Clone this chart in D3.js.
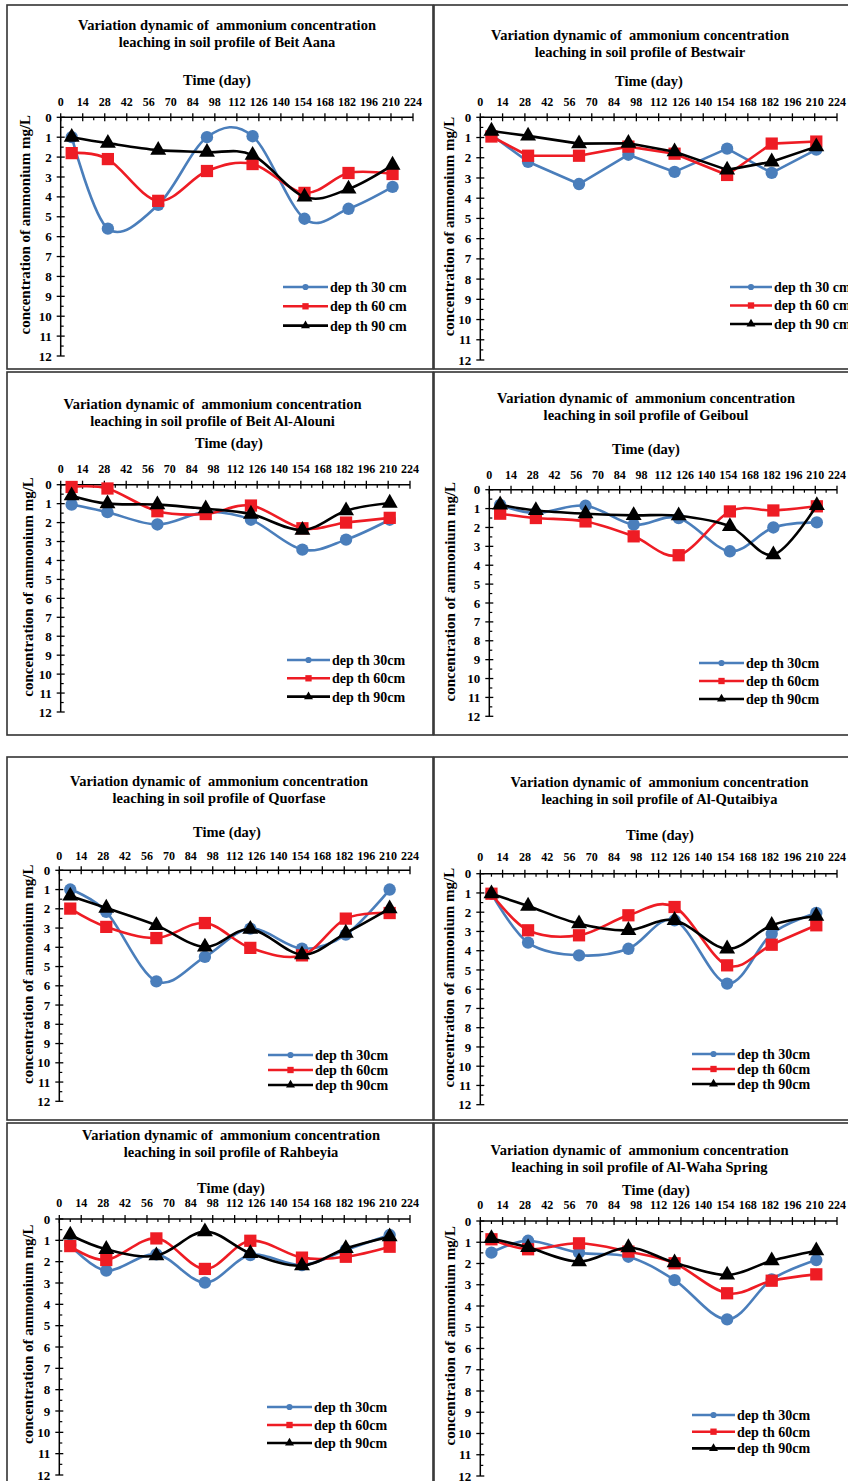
<!DOCTYPE html>
<html lang="en">
<head>
<meta charset="UTF-8">
<title>Ammonium leaching in soil profiles</title>
<script src="https://d3js.org/d3.v7.min.js"></script>
<style>
  body { margin: 0; background: #fff; }
  svg { display: block; font-family: "Liberation Serif", "Times New Roman", serif; font-weight: bold; }
  .title { white-space: pre; }
</style>
</head>
<body>
<svg id="chart"></svg>
<script>
const width = 848, height = 1481;

// sampling days and axis ticks
const days = [7, 30, 62, 93, 122, 155, 183, 211];
const xTicks = d3.range(0, 225, 14);
const yTicks = d3.range(0, 13);

const sites = ["Beit Aana", "Bestwair", "Beit Al-Alouni", "Geiboul",
               "Quorfase", "Al-Qutaibiya", "Rahbeyia", "Al-Waha Spring"];
const legendWide = ["dep th 30 cm", "dep th 60 cm", "dep th 90 cm"];
const legendTight = ["dep th 30cm", "dep th 60cm", "dep th 90cm"];

// ammonium mg/L, one row per site (same order as sites)
const depth30 = [
  [1.0, 5.6, 4.4, 1.0, 0.95, 5.1, 4.6, 3.5],
  [0.87, 2.2, 3.3, 1.85, 2.7, 1.55, 2.75, 1.6],
  [1.05, 1.45, 2.1, 1.45, 1.85, 3.43, 2.9, 1.85],
  [0.8, 1.23, 0.85, 1.85, 1.5, 3.26, 2.0, 1.73],
  [1.0, 2.16, 5.77, 4.5, 3.03, 4.07, 3.34, 1.0],
  [1.04, 3.58, 4.24, 3.9, 2.42, 5.71, 3.12, 2.04],
  [1.22, 2.42, 1.66, 2.98, 1.69, 2.16, 1.45, 0.75],
  [1.49, 0.93, 1.49, 1.68, 2.78, 4.63, 2.75, 1.84]
];
const depth60 = [
  [1.8, 2.1, 4.2, 2.7, 2.35, 3.8, 2.8, 2.85],
  [0.95, 1.9, 1.9, 1.45, 1.8, 2.85, 1.3, 1.2],
  [0.12, 0.2, 1.4, 1.55, 1.1, 2.3, 2.0, 1.75],
  [1.27, 1.5, 1.68, 2.47, 3.47, 1.15, 1.1, 0.88],
  [1.99, 2.94, 3.52, 2.74, 4.03, 4.42, 2.51, 2.22],
  [1.04, 2.94, 3.2, 2.16, 1.73, 4.76, 3.69, 2.68],
  [1.27, 1.92, 0.91, 2.34, 1.02, 1.81, 1.77, 1.3],
  [0.86, 1.33, 1.05, 1.44, 1.99, 3.4, 2.81, 2.51]
];
const depth90 = [
  [1.0, 1.3, 1.65, 1.75, 1.9, 4.0, 3.6, 2.4],
  [0.68, 0.92, 1.3, 1.28, 1.7, 2.6, 2.2, 1.45],
  [0.58, 1.0, 1.05, 1.27, 1.55, 2.4, 1.37, 0.97],
  [0.8, 1.1, 1.27, 1.36, 1.38, 1.94, 3.44, 0.83],
  [1.33, 1.96, 2.86, 3.98, 3.06, 4.38, 3.26, 1.99],
  [1.04, 1.68, 2.6, 2.94, 2.42, 3.9, 2.68, 2.2],
  [0.75, 1.42, 1.72, 0.59, 1.61, 2.19, 1.38, 0.83],
  [0.82, 1.24, 1.91, 1.25, 1.96, 2.54, 1.87, 1.4]
];

// where each panel sits on the page
const layout = [
  {box: [7, 5, 433, 369], ax: [60.7, 413, 117.3, 356], title: [227, 30], time: [217, 85], tick: 106, yt: 25, leg: [283, 328, 287, 19.3], smooth: true, wide: true},
  {box: [434, 5, 870, 369], ax: [480.3, 837, 117.3, 360], title: [640, 40], time: [649, 86], tick: 106, yt: 449, leg: [730, 772, 287, 18.5], smooth: false, wide: true},
  {box: [7, 372, 433, 735], ax: [60.7, 410, 484.7, 712], title: [212.5, 409], time: [229, 448], tick: 473, yt: 28, leg: [287, 330, 660, 18.3], smooth: true},
  {box: [434, 372, 870, 735], ax: [489.3, 837, 489.7, 716.3], title: [646, 403], time: [646, 454], tick: 479, yt: 450, leg: [699, 744, 663, 18], smooth: true},
  {box: [7, 757, 433, 1120], ax: [59.3, 410, 870.3, 1101.3], title: [219, 786], time: [227, 837], tick: 860, yt: 28, leg: [268, 313, 1055, 15], smooth: true},
  {box: [434, 757, 870, 1120], ax: [480.3, 837, 873.7, 1104.7], title: [659.5, 787], time: [660, 840], tick: 861, yt: 449, leg: [692, 735, 1054, 15], smooth: true},
  {box: [7, 1123, 433, 1500], ax: [59.3, 410, 1219, 1475], title: [231, 1140], time: [231, 1193], tick: 1207, yt: 28, leg: [267, 312, 1407, 18], smooth: true},
  {box: [434, 1123, 870, 1500], ax: [480.3, 837, 1221, 1476], title: [639.5, 1155], time: [656, 1195], tick: 1209, yt: 450, leg: [692, 735, 1415, 16.7], smooth: true}
];

const colors = ["#4a7ebb", "#ee1c24", "#000000"];
const shapes = [d3.symbolCircle, d3.symbolSquare, d3.symbolTriangle];
const markerSize = [120, 150, 110];
const legendSize = [30, 40, 35];

const svg = d3.select("#chart")
    .attr("width", width)
    .attr("height", height)
    .attr("viewBox", [0, 0, width, height]);

sites.forEach((site, i) => {
  const L = layout[i];
  const g = svg.append("g");

  g.append("rect")
      .attr("x", L.box[0]).attr("y", L.box[1])
      .attr("width", L.box[2] - L.box[0]).attr("height", L.box[3] - L.box[1])
      .attr("fill", "none").attr("stroke", "#333").attr("stroke-width", 1.6);

  const x = d3.scaleLinear().domain([0, 224]).range([L.ax[0], L.ax[1]]);
  const y = d3.scaleLinear().domain([0, 12]).range([L.ax[2], L.ax[3]]);

  // title
  const t = g.append("text")
      .attr("class", "title")
      .attr("text-anchor", "middle")
      .attr("font-size", 14.5);
  t.append("tspan").attr("x", L.title[0]).attr("y", L.title[1])
      .text("Variation dynamic of  ammonium concentration");
  t.append("tspan").attr("x", L.title[0]).attr("y", L.title[1] + 17)
      .text("leaching in soil profile of " + site);

  g.append("text")
      .attr("x", L.time[0]).attr("y", L.time[1])
      .attr("text-anchor", "middle").attr("font-size", 14.5)
      .text("Time (day)");

  // x axis on top (value 0)
  const y0 = y(0);
  g.append("line")
      .attr("x1", x(0)).attr("x2", x(224)).attr("y1", y0).attr("y2", y0)
      .attr("stroke", "#000").attr("stroke-width", 1.5);
  g.selectAll(".xt").data(xTicks).join("line")
      .attr("x1", d => x(d)).attr("x2", d => x(d))
      .attr("y1", y0 - 4).attr("y2", y0 + 4)
      .attr("stroke", "#000").attr("stroke-width", 1.3);
  g.selectAll(".xm").data(xTicks.slice(0, -1)).join("line")
      .attr("x1", d => x(d + 7)).attr("x2", d => x(d + 7))
      .attr("y1", y0).attr("y2", y0 + 3)
      .attr("stroke", "#000").attr("stroke-width", 1.2);
  g.selectAll(".xl").data(xTicks).join("text")
      .attr("x", d => x(d)).attr("y", L.tick)
      .attr("text-anchor", "middle").attr("font-size", 12)
      .text(d => d);

  // y axis, reversed so 0 is at top
  const xa = x(0);
  g.append("line")
      .attr("x1", xa).attr("x2", xa).attr("y1", y(0)).attr("y2", y(12))
      .attr("stroke", "#000").attr("stroke-width", 1.5);
  g.selectAll(".yt").data(yTicks).join("line")
      .attr("x1", xa - 4).attr("x2", xa + 4)
      .attr("y1", d => y(d)).attr("y2", d => y(d))
      .attr("stroke", "#000").attr("stroke-width", 1.3);
  g.selectAll(".ym").data(yTicks.slice(0, -1)).join("line")
      .attr("x1", xa).attr("x2", xa + 3)
      .attr("y1", d => y(d + 0.5)).attr("y2", d => y(d + 0.5))
      .attr("stroke", "#000").attr("stroke-width", 1.2);
  g.selectAll(".yl").data(yTicks).join("text")
      .attr("x", xa - 9).attr("y", d => y(d))
      .attr("dy", "0.35em")
      .attr("text-anchor", "end").attr("font-size", 13)
      .text(d => d);

  const ytY = L.ax[2] + 0.45 * (L.ax[3] - L.ax[2]);
  g.append("text")
      .attr("transform", `translate(${L.yt},${ytY}) rotate(-90)`)
      .attr("dy", "0.35em")
      .attr("text-anchor", "middle").attr("font-size", 15)
      .text("concentration of ammonium mg/L");

  // series
  const line = d3.line()
      .x((d, k) => x(days[k]))
      .y(d => y(d))
      .curve(L.smooth ? d3.curveCardinal.tension(0) : d3.curveLinear);

  [depth30[i], depth60[i], depth90[i]].forEach((vals, s) => {
    g.append("path")
        .attr("d", line(vals))
        .attr("fill", "none")
        .attr("stroke", colors[s]).attr("stroke-width", 2.6)
        .attr("stroke-linejoin", "round");
    g.selectAll(null).data(vals).join("path")
        .attr("transform", (d, k) => `translate(${x(days[k])},${y(d)})`)
        .attr("d", d3.symbol().type(shapes[s]).size(markerSize[s]))
        .attr("fill", colors[s]);
  });

  // legend
  const labels = L.wide ? legendWide : legendTight;
  labels.forEach((lab, s) => {
    const ly = L.leg[2] + s * L.leg[3];
    g.append("line")
        .attr("x1", L.leg[0]).attr("x2", L.leg[1]).attr("y1", ly).attr("y2", ly)
        .attr("stroke", colors[s]).attr("stroke-width", 2.6);
    g.append("path")
        .attr("transform", `translate(${(L.leg[0] + L.leg[1]) / 2},${ly})`)
        .attr("d", d3.symbol().type(shapes[s]).size(legendSize[s]))
        .attr("fill", colors[s]);
    g.append("text")
        .attr("x", L.leg[1] + 2).attr("y", ly)
        .attr("dy", "0.35em").attr("font-size", 14)
        .text(lab);
  });
});
</script>
</body>
</html>
